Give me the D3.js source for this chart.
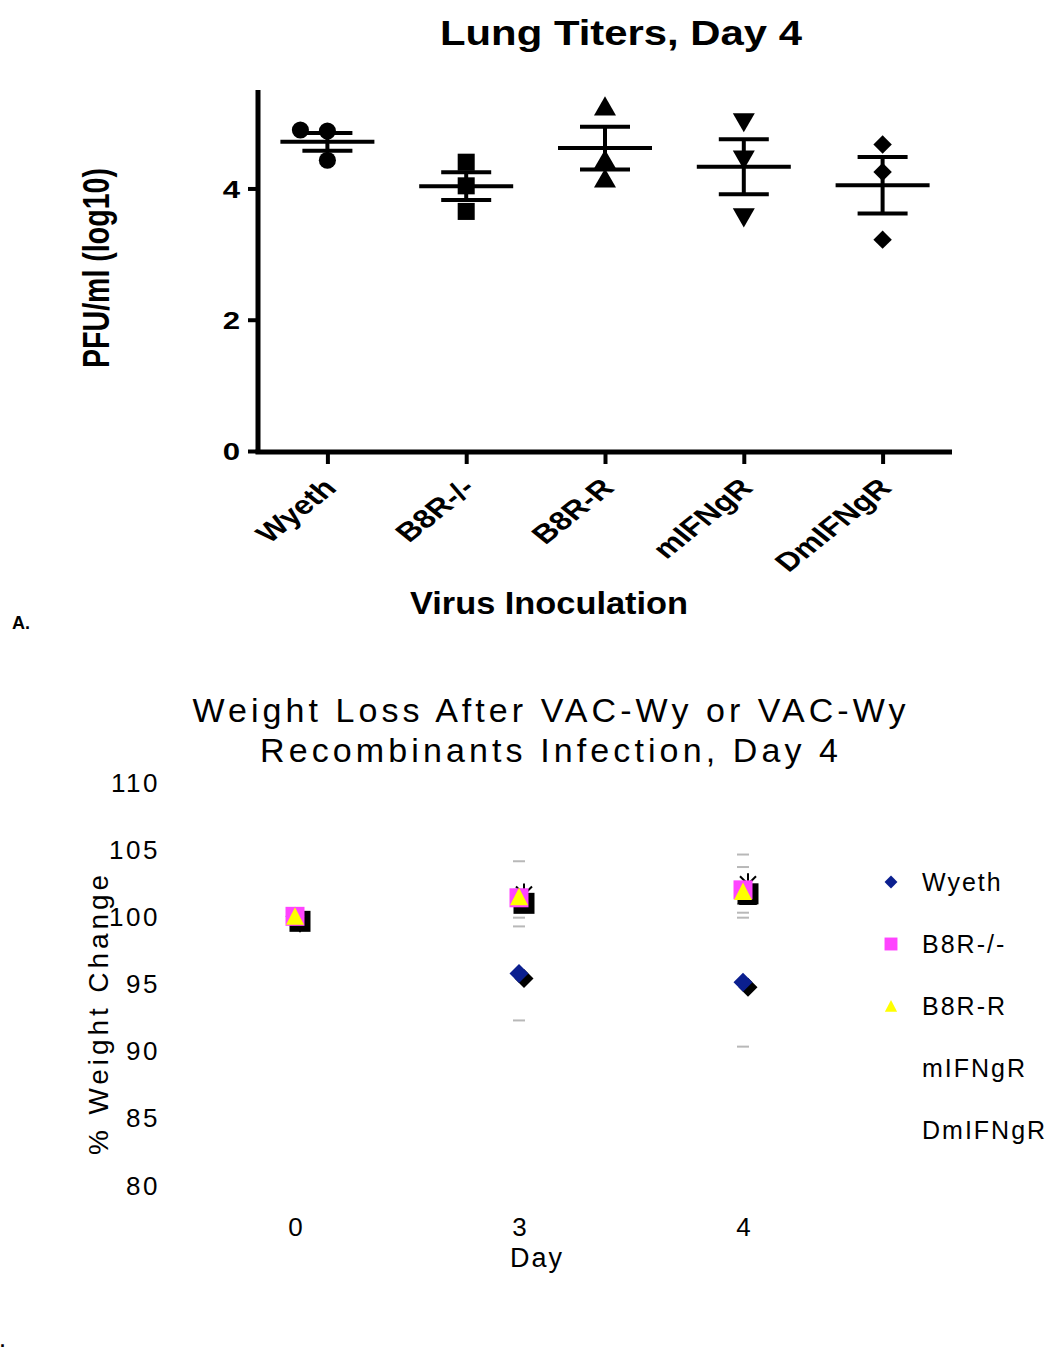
<!DOCTYPE html>
<html>
<head>
<meta charset="utf-8">
<script src="https://cdn.jsdelivr.net/npm/d3@7"></script>
<style>
  body { margin: 0; background: #fff; }
  svg { display: block; }
</style>
</head>
<body>
<div class="center"></div>
<script>
// ---------- data: panel A (lung titers) ----------
var groups = ["Wyeth", "B8R-/-", "B8R-R", "mIFNgR", "DmIFNgR"];
var titers = [
    [4.89, 4.875, 4.43],
    [4.40, 4.04, 3.65],
    [5.21, 4.40, 4.11],
    [5.05, 4.48, 3.60],
    [4.67, 4.25, 3.22]
];
var titerMean = [4.71, 4.035, 4.615, 4.33, 4.05];
var titerSem = [0.135, 0.21, 0.325, 0.42, 0.43];
var titerTicks = [0, 2, 4];

// ---------- data: panel B (weight loss) ----------
var days = ["0", "3", "4"];
var seriesNames = ["Wyeth", "B8R-/-", "B8R-R", "mIFNgR", "DmIFNgR"];
var wyethW = [100, 95.75, 95.1];
var b8rKoW = [100, 101.38, 101.97];
var b8rRW = [100, 101.45, 101.85];
var mifngrW = [100, 102.0, 102.76];
var dmifngrW = [100, 101.34, 102.05];
var wyethErr = [0, 3.5, 4.8];
var b8rKoErr = [0, 0.6, 1.7];
var b8rRErr = [0, 0.5, 0.5];
var mifngrErr = [0, 2.1, 1.84];
var dmifngrErr = [0, 0.5, 0.5];
var weightTicks = [80, 85, 90, 95, 100, 105, 110];

var svg = d3.select("div.center").append("svg")
    .attr("width", 1048)
    .attr("height", 1351);

// =============== panel A ===============
var boldFont = "'Liberation Sans', Arial, sans-serif";

var x = d3.scalePoint().domain(groups).range([258, 952]).padding(0.5);
var y = d3.scaleLinear().domain([0, 5.5]).range([451, 90]);

var gA = svg.append("g");

// title
gA.append("text")
    .attr("x", 621).attr("y", 45)
    .attr("text-anchor", "middle")
    .attr("textLength", 362).attr("lengthAdjust", "spacingAndGlyphs")
    .style("font", "bold 35px " + boldFont)
    .text("Lung Titers, Day 4");

// y axis
var yAxis = gA.append("g")
    .attr("transform", "translate(258,0)")
    .call(d3.axisLeft(y).tickValues(titerTicks).tickFormat(d3.format("d"))
        .tickSize(10).tickSizeOuter(0).tickPadding(0));
yAxis.select(".domain").attr("stroke-width", 5).attr("d", "M0," + y(5.5) + "V" + (y(0) + 2.5));
yAxis.selectAll(".tick line").attr("stroke-width", 4);
yAxis.selectAll(".tick text")
    .attr("x", 0).attr("dy", "0.36em")
    .attr("transform", "translate(-18,0) scale(1.3,1)")
    .style("font", "bold 24px " + boldFont);

// x axis
var xAxis = gA.append("g")
    .attr("transform", "translate(0,452)")
    .call(d3.axisBottom(x).tickSize(12).tickSizeOuter(0));
xAxis.select(".domain").attr("stroke-width", 5).attr("d", "M255.5,0H952");
xAxis.selectAll(".tick line").attr("stroke-width", 4);
xAxis.selectAll(".tick text")
    .attr("x", 0).attr("y", 0).attr("dy", "0.35em")
    .attr("transform", "translate(2,31) scale(1.25,1) rotate(-45)")
    .attr("text-anchor", "end")
    .style("font", "bold 26px " + boldFont);

// axis titles
gA.append("text")
    .attr("transform", "translate(109,268) scale(1.3,1) rotate(-90)")
    .attr("text-anchor", "middle")
    .attr("textLength", 200).attr("lengthAdjust", "spacingAndGlyphs")
    .style("font", "bold 28px " + boldFont)
    .text("PFU/ml (log10)");

gA.append("text")
    .attr("x", 549).attr("y", 614)
    .attr("text-anchor", "middle")
    .attr("textLength", 278).attr("lengthAdjust", "spacingAndGlyphs")
    .style("font", "bold 31px " + boldFont)
    .text("Virus Inoculation");

// error bars: mean line, sem whiskers
groups.forEach(function(g, i) {
    var cx = x(g);
    var bar = gA.append("g").attr("stroke", "#000").attr("stroke-width", 4);
    bar.append("line").attr("x1", cx - 47).attr("x2", cx + 47)
        .attr("y1", y(titerMean[i])).attr("y2", y(titerMean[i]));
    bar.append("line").attr("x1", cx).attr("x2", cx)
        .attr("y1", y(titerMean[i] + titerSem[i])).attr("y2", y(titerMean[i] - titerSem[i]));
    [titerMean[i] + titerSem[i], titerMean[i] - titerSem[i]].forEach(function(v) {
        bar.append("line").attr("x1", cx - 25).attr("x2", cx + 25)
            .attr("y1", y(v)).attr("y2", y(v));
    });
});

// points, one symbol per group
var shapes = [
    {type: d3.symbolCircle, size: 230, rot: 0},
    {type: d3.symbolSquare, size: 290, rot: 0},
    {type: d3.symbolTriangle, size: 210, rot: 0},
    {type: d3.symbolTriangle, size: 210, rot: 180},
    {type: d3.symbolSquare, size: 170, rot: 45}
];
titers.forEach(function(vals, i) {
    vals.forEach(function(v, j) {
        // spread points that sit on top of each other (like column scatter)
        var dx = 0;
        for (var k = j + 1; k < vals.length; k++) {
            if (Math.abs(vals[k] - v) < 0.1) dx = -27;
        }
        gA.append("path")
            .attr("d", d3.symbol().type(shapes[i].type).size(shapes[i].size)())
            .attr("transform", "translate(" + (x(groups[i]) + dx) + "," + y(v) + ") rotate(" + shapes[i].rot + ")")
            .attr("fill", "#000");
    });
});

gA.append("text")
    .attr("x", 12).attr("y", 629)
    .style("font", "bold 18px " + boldFont)
    .text("A.");

// =============== panel B ===============
var font = "'Liberation Sans', Arial, sans-serif";
var xb = d3.scalePoint().domain(days).range([183, 855]).padding(0.5);
var yb = d3.scaleLinear().domain([80, 110]).range([1185, 782]);

var gB = svg.append("g");

gB.append("text")
    .attr("x", 549).attr("y", 722)
    .attr("text-anchor", "middle")
    .attr("textLength", 713).attr("lengthAdjust", "spacing")
    .style("font", "34px " + font)
    .text("Weight Loss After VAC-Wy or VAC-Wy");
gB.append("text")
    .attr("x", 549).attr("y", 762)
    .attr("text-anchor", "middle")
    .attr("textLength", 578).attr("lengthAdjust", "spacing")
    .style("font", "34px " + font)
    .text("Recombinants Infection, Day 4");

// y axis (no line, labels only)
var yAxisB = gB.append("g")
    .attr("transform", "translate(160,0)")
    .call(d3.axisLeft(yb).tickValues(weightTicks).tickSize(0).tickPadding(0));
yAxisB.select(".domain").remove();
yAxisB.selectAll(".tick text")
    .style("font", "26px " + font)
    .style("letter-spacing", "2.5px")
    .attr("dy", "0.35em");

var xAxisB = gB.append("g")
    .attr("transform", "translate(0,1218)")
    .call(d3.axisBottom(xb).tickSize(0).tickPadding(0));
xAxisB.select(".domain").remove();
xAxisB.selectAll(".tick text")
    .style("font", "26px " + font)
    .attr("dy", "0.71em");

gB.append("text")
    .attr("transform", "translate(108,1015) rotate(-90)")
    .attr("text-anchor", "middle")
    .attr("textLength", 280).attr("lengthAdjust", "spacing")
    .style("font", "28px " + font)
    .text("% Weight Change");

gB.append("text")
    .attr("x", 537).attr("y", 1267)
    .attr("text-anchor", "middle")
    .style("font", "27px " + font)
    .style("letter-spacing", "2px")
    .text("Day");

// series table built from the arrays
var series = [
    {name: seriesNames[0], vals: wyethW, err: wyethErr, color: "#0b1f8f", shape: "diamond"},
    {name: seriesNames[1], vals: b8rKoW, err: b8rKoErr, color: "#ff44ff", shape: "square"},
    {name: seriesNames[2], vals: b8rRW, err: b8rRErr, color: "#ffff00", shape: "triangle"},
    {name: seriesNames[3], vals: mifngrW, err: mifngrErr, color: "none", shape: "star"},
    {name: seriesNames[4], vals: dmifngrW, err: dmifngrErr, color: "none", shape: "bigsquare"}
];

function markerPath(shape) {
    if (shape === "diamond") return "M0,-9.5L9.5,0L0,9.5L-9.5,0Z";
    if (shape === "square") return "M-9.5,-9.5H9.5V9.5H-9.5Z";
    if (shape === "bigsquare") return "M-10.5,-10.5H10.5V10.5H-10.5Z";
    if (shape === "triangle") return "M0,-9L9,8.5H-9Z";
    if (shape === "star") return "M0,-11V11M-8,-8L8,8M8,-8L-8,8";
    return "";
}

// error bar caps (grey, no stems)
series.forEach(function(s) {
    s.vals.forEach(function(v, i) {
        if (!s.err[i]) return;
        [v + s.err[i], v - s.err[i]].forEach(function(e) {
            gB.append("line")
                .attr("x1", xb(days[i]) - 6).attr("x2", xb(days[i]) + 6)
                .attr("y1", yb(e)).attr("y2", yb(e))
                .attr("stroke", "#b8b8b8").attr("stroke-width", 2);
        });
    });
});

// shadows first, then markers
series.forEach(function(s) {
    s.vals.forEach(function(v, i) {
        var p = gB.append("path")
            .attr("d", markerPath(s.shape))
            .attr("transform", "translate(" + (xb(days[i]) + 5) + "," + (yb(v) + 5) + ")");
        if (s.shape === "star") p.attr("fill", "none").attr("stroke", "#000").attr("stroke-width", 2);
        else p.attr("fill", "#000");
    });
});
series.forEach(function(s) {
    if (s.color === "none") return;
    s.vals.forEach(function(v, i) {
        gB.append("path")
            .attr("d", markerPath(s.shape))
            .attr("transform", "translate(" + xb(days[i]) + "," + yb(v) + ")")
            .attr("fill", s.color);
    });
});

// legend
var legend = gB.append("g").attr("transform", "translate(891,882)");
series.forEach(function(s, i) {
    var row = legend.append("g").attr("transform", "translate(0," + (i * 62) + ")");
    if (s.color !== "none") {
        row.append("path")
            .attr("d", markerPath(s.shape))
            .attr("transform", "scale(0.68)")
            .attr("fill", s.color);
    }
    row.append("text")
        .attr("x", 31).attr("y", 9)
        .style("font", "25px " + font)
        .style("letter-spacing", "2px")
        .text(s.name);
});

svg.append("text")
    .attr("x", 0).attr("y", 1347)
    .style("font", "bold 18px " + boldFont)
    .text(".");
</script>
</body>
</html>
